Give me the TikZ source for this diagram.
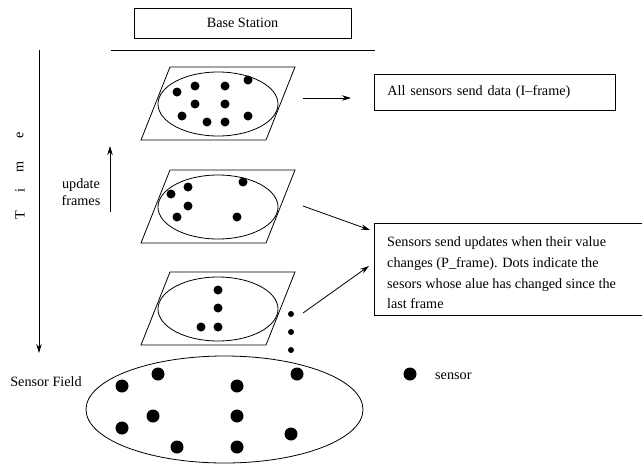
\documentclass[tikz,border=0pt]{standalone}
\usepackage{fontspec}
\setmainfont{Liberation Serif}
\usetikzlibrary{arrows.meta}
\begin{document}
\begin{tikzpicture}[x=1pt,y=-1pt,
  txt/.style={font=\fontsize{14.2}{20.5}\selectfont, inner sep=0pt},
  box/.style={draw, line width=0.8pt, inner sep=0pt},
  ln/.style={line width=0.8pt},
  arr/.style={line width=0.8pt, -{Stealth[length=9pt,width=5.5pt]}},
  sdot/.style={fill=black}]
\useasboundingbox (0,0) rectangle (642,466);
% base station
\node[box, minimum width=217pt, minimum height=30pt, txt] (bs) at (242.5,23) {Base Station};
\coordinate (bl1) at (111,50); \coordinate (bl2) at (375,50);
\draw[ln] (bl1) -- (bl2);
% time axis
\coordinate (t1) at (39,50); \coordinate (t2) at (39,353);
\draw[arr] (t1) -- (t2);
\node[txt, rotate=90] (tT) at (20,215) {T};
\node[txt, rotate=90] (ti) at (20,191) {i};
\node[txt, rotate=90] (tm) at (20,167) {m};
\node[txt, rotate=90] (te) at (20,135) {e};
% update frames
\coordinate (u1) at (110,212); \coordinate (u2) at (110,146);
\draw[arr] (u1) -- (u2);
\node[txt, align=center] (upd) at (81,192) {update\\[-3pt]frames};
% frames
\foreach \t in {67,170,272}{
  \draw[ln] (170,\t) -- (295,\t) -- (266,{\t+73}) -- (141,{\t+73}) -- cycle;
  \draw[ln] (218,{\t+37}) ellipse (60 and 32);
}
\foreach \p in {(177,92),(195,86),(225,86),(248,80),(195,104),(225,104),(182,116),(207,122),(225,122),(248,116),
  (171,194),(188,187),(243,182),(188,206),(177,217),(237,217),
  (218,290),(218,308),(201,327),(218,327)}
  \fill[sdot] \p circle (4.5);
\foreach \y in {314,332,350} \fill[sdot] (291,\y) circle (3);
% boxes
\node[box, txt, anchor=north west, minimum width=241pt, minimum height=36pt, text width=215pt, inner xsep=13pt, align=left] (ibox) at (374,74) {All sensors send data (I--frame)};
\node[box, anchor=north west, minimum width=267.5pt, minimum height=92pt] (pbox) at (374,223) {};
\node[txt, anchor=north west, align=left] (ptext) at (387,236) {Sensors send updates when their value\\[1pt]changes (P\_frame). Dots indicate the\\sesors whose alue has changed since the\\last frame};
% arrows
\coordinate (a1s) at (303,98); \coordinate (a1e) at (351,98);
\coordinate (a2s) at (303,206); \coordinate (a2e) at (370,230);
\coordinate (a3s) at (303,313); \coordinate (a3e) at (369,266);
\draw[arr] (a1s) -- (a1e);
\draw[arr] (a2s) -- (a2e);
\draw[arr] (a3s) -- (a3e);
% sensor field
\node[txt] (sf) at (46,382) {Sensor Field};
\draw[ln] (224.5,409.5) ellipse (138.5 and 53.5);
\foreach \p in {(122,386),(158,374),(237,386),(297,374),(153,416),(237,416),(122,428),(291,434),(177,447),(237,447)}
  \fill[sdot] \p circle (6.5);
% legend
\fill[sdot] (410,374) circle (6.5);
\node[txt, anchor=west] (leg) at (435,376) {sensor};
\end{tikzpicture}
\end{document}
